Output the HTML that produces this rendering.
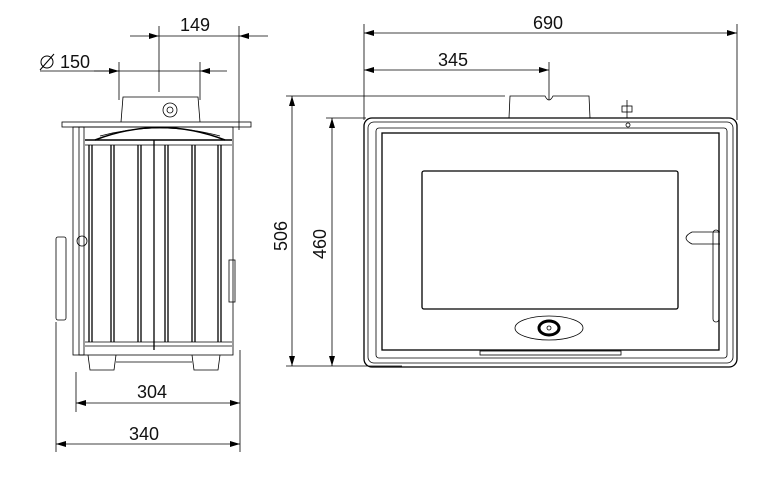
<!DOCTYPE html>
<html><head><style>body{margin:0;background:#fff}svg{display:block}text{font-family:"Liberation Sans",sans-serif;font-size:18px;fill:#111}</style></head>
<body>
<svg width="774" height="478" viewBox="0 0 774 478" xmlns="http://www.w3.org/2000/svg">
<defs><marker id="a" viewBox="0 0 10 6" refX="10" refY="3" markerWidth="18" markerHeight="6" markerUnits="userSpaceOnUse" orient="auto-start-reverse"><path d="M0,0L10,3L0,6z" fill="#000"/></marker></defs>
<g stroke="#000" stroke-width="0.8" fill="none">
<line x1="159" y1="26" x2="159" y2="92"/><line x1="239" y1="26" x2="239" y2="130"/>
<line x1="130" y1="36" x2="159" y2="36" marker-end="url(#a)"/><line x1="268" y1="36" x2="239" y2="36" marker-end="url(#a)"/>
<line x1="159" y1="36" x2="239" y2="36"/>
<line x1="119" y1="62" x2="119" y2="100"/><line x1="200" y1="62" x2="200" y2="100"/>
<line x1="40" y1="71" x2="119" y2="71"/><line x1="94" y1="71" x2="119" y2="71" marker-end="url(#a)"/>
<line x1="227" y1="71" x2="200" y2="71" marker-end="url(#a)"/><line x1="119" y1="71" x2="200" y2="71"/>
<line x1="76" y1="372" x2="76" y2="412"/><line x1="240" y1="350" x2="240" y2="452"/>
<line x1="56" y1="322" x2="56" y2="452"/>
<line x1="76" y1="403" x2="240" y2="403" marker-start="url(#a)" marker-end="url(#a)"/>
<line x1="56" y1="444" x2="240" y2="444" marker-start="url(#a)" marker-end="url(#a)"/>
<path d="M121,122 L123,97 L198,97 L200,122"/>
<circle cx="170" cy="110" r="7"/><circle cx="170" cy="110" r="3"/>
<rect x="62" y="122" width="189" height="5"/>
<rect x="73" y="127" width="160" height="228"/>
<rect x="79" y="127" width="5" height="228"/>
<path d="M95,140 Q160,115 225,140" stroke-width="1.5"/>
<path d="M100,136 Q160,120 220,136"/>
<line x1="85" y1="140" x2="232" y2="140" stroke-width="1.5"/>
<line x1="85" y1="145" x2="232" y2="145"/>
<g stroke-width="1.3">
<line x1="89" y1="145" x2="89" y2="342"/><line x1="92" y1="145" x2="92" y2="342"/>
<line x1="111" y1="145" x2="111" y2="342"/><line x1="114" y1="145" x2="114" y2="342"/>
<line x1="138" y1="145" x2="138" y2="342"/><line x1="141" y1="145" x2="141" y2="342"/>
<line x1="154" y1="140" x2="154" y2="350"/>
<line x1="165" y1="145" x2="165" y2="342"/><line x1="168" y1="145" x2="168" y2="342"/>
<line x1="192" y1="145" x2="192" y2="342"/><line x1="195" y1="145" x2="195" y2="342"/>
<line x1="218" y1="145" x2="218" y2="342"/><line x1="221" y1="145" x2="221" y2="342"/>
</g>
<line x1="85" y1="342" x2="232" y2="342"/><line x1="85" y1="346" x2="232" y2="346"/>
<rect x="56" y="237" width="10" height="83" rx="2"/>
<circle cx="82" cy="241" r="5"/>
<path d="M88,355 L90,370 L114,370 L116,355"/><path d="M192,355 L194,370 L218,370 L220,355"/>
<line x1="116" y1="362" x2="192" y2="362"/>
<rect x="229" y="260" width="6" height="42"/>
<line x1="364" y1="24" x2="364" y2="120"/><line x1="737" y1="24" x2="737" y2="120"/>
<line x1="364" y1="33" x2="737" y2="33" marker-start="url(#a)" marker-end="url(#a)"/>
<line x1="549" y1="62" x2="549" y2="100"/>
<line x1="364" y1="70" x2="549" y2="70" marker-start="url(#a)" marker-end="url(#a)"/>
<line x1="286" y1="96" x2="505" y2="96"/><line x1="326" y1="118" x2="366" y2="118"/>
<line x1="286" y1="366" x2="402" y2="366"/>
<line x1="292" y1="96" x2="292" y2="366" marker-start="url(#a)" marker-end="url(#a)"/>
<line x1="332" y1="118" x2="332" y2="366" marker-start="url(#a)" marker-end="url(#a)"/>
<path d="M509,118 L510,96 L545,96 Q549,104 553,96 L589,96 L590,118"/>
<rect x="364" y="118" width="373" height="249" rx="8" stroke-width="1.3"/>
<rect x="368" y="122" width="365" height="241" rx="6"/>
<rect x="376" y="128" width="351" height="230" rx="3"/>
<rect x="382" y="133" width="337" height="217" stroke-width="1.3"/>
<rect x="422" y="171" width="256" height="138" rx="2" stroke-width="1.3"/>
<ellipse cx="549" cy="328" rx="34" ry="12"/>
<ellipse cx="549" cy="328" rx="10" ry="7" stroke-width="3"/>
<circle cx="549" cy="328" r="2" fill="#fff"/>
<rect x="480" y="351" width="141" height="4"/>
<path d="M720,232 L692,232 Q680,238 692,244 L720,244"/>
<rect x="713" y="230" width="6" height="92" rx="3"/>
<line x1="627" y1="100" x2="627" y2="118"/><rect x="622" y="106" width="10" height="6"/>
<circle cx="628" cy="125" r="2"/>
</g>
<text x="180" y="31">149</text>
<text x="60" y="68">150</text>
<g stroke="#000" fill="none" stroke-width="1"><circle cx="47" cy="62" r="6"/><line x1="40" y1="70" x2="54" y2="54"/></g>
<text x="137" y="398">304</text>
<text x="129" y="440">340</text>
<text x="533" y="29">690</text>
<text x="438" y="66">345</text>
<text transform="translate(287,251) rotate(-90)">506</text>
<text transform="translate(326,259) rotate(-90)">460</text>
</svg>
</body></html>
